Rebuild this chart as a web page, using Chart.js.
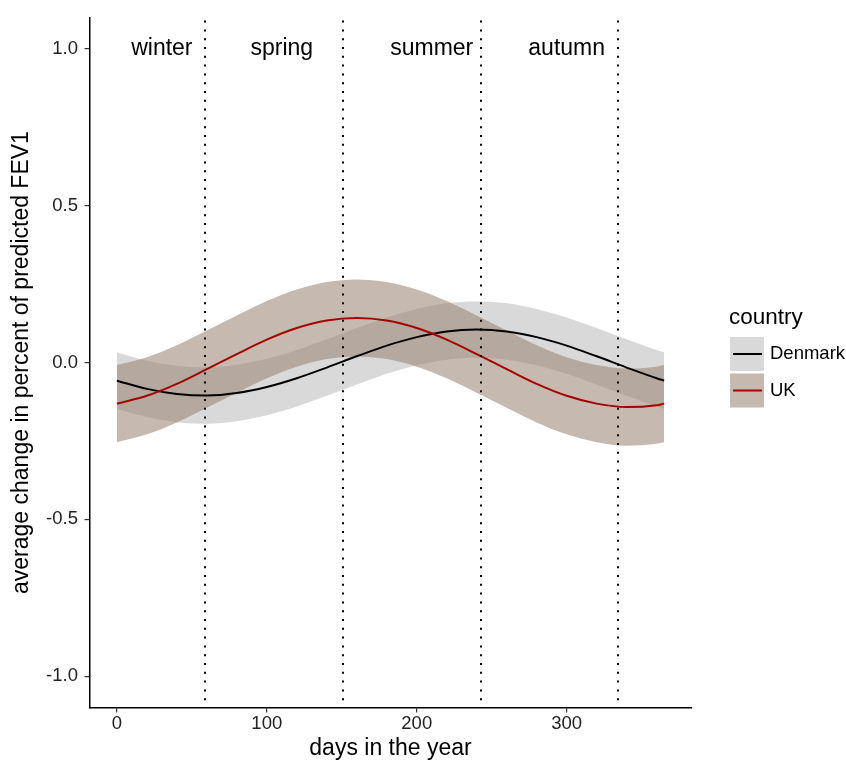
<!DOCTYPE html>
<html>
<head>
<meta charset="utf-8">
<script src="https://cdn.jsdelivr.net/npm/chart.js@4"></script>
<style>
  body { margin: 0; background: #fff; }
  #wrap { width: 846px; height: 763px; }
</style>
</head>
<body>
<div id="wrap"><canvas id="grafico" width="846" height="763"></canvas></div>
<script>
// days of the year where the curves were read
const days = [0, 20, 40, 60, 80, 100, 120, 140, 160, 180, 200, 220, 240, 260, 280, 300, 320, 340, 360, 365]
const denmark = [-0.058, -0.084, -0.100, -0.105, -0.097, -0.078, -0.050, -0.016, 0.020, 0.054, 0.081, 0.099, 0.105, 0.099, 0.081, 0.054, 0.020, -0.016, -0.050, -0.057]
const denmarkUpper = [0.032, 0.006, -0.010, -0.015, -0.007, 0.012, 0.040, 0.074, 0.110, 0.144, 0.171, 0.189, 0.195, 0.189, 0.171, 0.144, 0.110, 0.074, 0.040, 0.033]
const denmarkLower = [-0.148, -0.174, -0.190, -0.195, -0.187, -0.168, -0.140, -0.106, -0.070, -0.036, -0.009, 0.009, 0.015, 0.009, -0.009, -0.036, -0.070, -0.106, -0.140, -0.147]
const uk = [-0.131, -0.106, -0.068, -0.021, 0.027, 0.073, 0.110, 0.134, 0.142, 0.134, 0.110, 0.073, 0.027, -0.021, -0.068, -0.106, -0.131, -0.142, -0.136, -0.131]
const ukUpper = [-0.008, 0.017, 0.055, 0.102, 0.150, 0.196, 0.233, 0.257, 0.265, 0.257, 0.233, 0.196, 0.150, 0.102, 0.055, 0.017, -0.008, -0.019, -0.013, -0.008]
const ukLower = [-0.254, -0.229, -0.191, -0.144, -0.096, -0.050, -0.013, 0.011, 0.019, 0.011, -0.013, -0.050, -0.096, -0.144, -0.191, -0.229, -0.254, -0.265, -0.259, -0.254]

// seasons
const seasonBreaks = [59, 151, 243, 334]
const seasonNames = ["winter", "spring", "summer", "autumn"]
const seasonPos = [30, 110, 210, 300]
const seasonLabelY = 1.0

const xTicks = [0, 100, 200, 300]
const yTicks = [-1.0, -0.5, 0.0, 0.5, 1.0]

const countries = ["Denmark", "UK"]
const lineColors = ["#000000", "#a50000"]
const bandColors = ["rgb(217,217,217)", "rgba(150,128,112,0.55)"]

const FONT = "'Liberation Sans', Arial, sans-serif"

function pts(vals) {
    return days.map((d, i) => ({x: d, y: vals[i]}))
}

// dotted season lines, season names and the legend on the right
const extras = {
    id: "extras",
    afterDatasetsDraw(chart) {
        const ctx = chart.ctx
        const xs = chart.scales.x
        const ys = chart.scales.y
        const area = chart.chartArea
        ctx.save()
        ctx.strokeStyle = "#000"
        ctx.lineWidth = 2
        ctx.setLineDash([2, 6.8])
        seasonBreaks.forEach(d => {
            let px = Math.round(xs.getPixelForValue(d))
            ctx.beginPath()
            ctx.moveTo(px, area.top + 3)
            ctx.lineTo(px, area.bottom)
            ctx.stroke()
        })
        ctx.setLineDash([])
        ctx.fillStyle = "#000"
        ctx.font = "23px " + FONT
        ctx.textAlign = "center"
        ctx.textBaseline = "middle"
        seasonNames.forEach((s, i) => {
            ctx.fillText(s, xs.getPixelForValue(seasonPos[i]), ys.getPixelForValue(seasonLabelY))
        })
        ctx.restore()
    },
    afterDraw(chart) {
        const ctx = chart.ctx
        ctx.save()
        ctx.fillStyle = "#000"
        ctx.textAlign = "left"
        ctx.textBaseline = "alphabetic"
        ctx.font = "22.5px " + FONT
        ctx.fillText("country", 729, 324)
        countries.forEach((c, i) => {
            let top = 337 + i * 36.5
            ctx.fillStyle = "#fff"
            ctx.fillRect(730, top, 34, 34)
            ctx.fillStyle = bandColors[i]
            ctx.fillRect(730, top, 34, 34)
            ctx.strokeStyle = lineColors[i]
            ctx.lineWidth = 2
            ctx.beginPath()
            ctx.moveTo(733, top + 17)
            ctx.lineTo(762, top + 17)
            ctx.stroke()
            ctx.fillStyle = "#000"
            ctx.font = "18.5px " + FONT
            ctx.textBaseline = "middle"
            ctx.fillText(c, 770, top + 17)
        })
        ctx.restore()
    }
}

window.onload = function () {
    const data = {
        datasets: [
            {label: "UK", data: pts(uk), borderColor: lineColors[1], borderWidth: 2, fill: false, order: 0},
            {label: "Denmark", data: pts(denmark), borderColor: lineColors[0], borderWidth: 2, fill: false, order: 1},
            {label: "dkLow", data: pts(denmarkLower), borderWidth: 0, borderColor: "transparent", fill: false, order: 6},
            {label: "dkUp", data: pts(denmarkUpper), borderWidth: 0, borderColor: "transparent", backgroundColor: bandColors[0], fill: 2, order: 5},
            {label: "ukLow", data: pts(ukLower), borderWidth: 0, borderColor: "transparent", fill: false, order: 4},
            {label: "ukUp", data: pts(ukUpper), borderWidth: 0, borderColor: "transparent", backgroundColor: bandColors[1], fill: 4, order: 3}
        ]
    }
    const config = {
        type: "line",
        data,
        options: {
            responsive: false,
            animation: false,
            events: [],
            layout: {padding: {left: 0, top: 11, right: 154.5, bottom: 0}},
            elements: {
                point: {radius: 0},
                line: {cubicInterpolationMode: "monotone"}
            },
            plugins: {
                legend: {display: false},
                tooltip: {enabled: false},
                filler: {drawTime: "beforeDatasetsDraw"}
            },
            scales: {
                x: {
                    type: "linear",
                    min: -18.25,
                    max: 383.25,
                    afterBuildTicks: s => { s.ticks = xTicks.map(v => ({value: v})) },
                    afterFit: s => { s.height = 55.5 },
                    border: {display: true, color: "#000", width: 1.5},
                    grid: {drawOnChartArea: false, drawTicks: true, tickLength: 5, color: "#333", lineWidth: 1.2},
                    ticks: {color: "#222", font: {family: FONT, size: 18.5}, padding: 0, maxRotation: 0},
                    title: {display: true, text: "days in the year", color: "#000", font: {family: FONT, size: 23, lineHeight: 1}, padding: {top: 0, bottom: 3}}
                },
                y: {
                    min: -1.1,
                    max: 1.1,
                    afterBuildTicks: s => { s.ticks = yTicks.map(v => ({value: v})) },
                    afterFit: s => { s.width = 89.5 },
                    border: {display: true, color: "#000", width: 1.5},
                    grid: {drawOnChartArea: false, drawTicks: true, tickLength: 5, color: "#333", lineWidth: 1.2},
                    ticks: {color: "#222", font: {family: FONT, size: 18.5}, padding: 6.5, callback: v => v.toFixed(1)},
                    title: {display: true, text: "average change in percent of predicted FEV1", color: "#000", font: {family: FONT, size: 23, lineHeight: 1}, padding: {top: 10, bottom: 0}}
                }
            }
        },
        plugins: [extras]
    }
    let chart1 = new Chart(document.getElementById("grafico"), config)
}
</script>
</body>
</html>
